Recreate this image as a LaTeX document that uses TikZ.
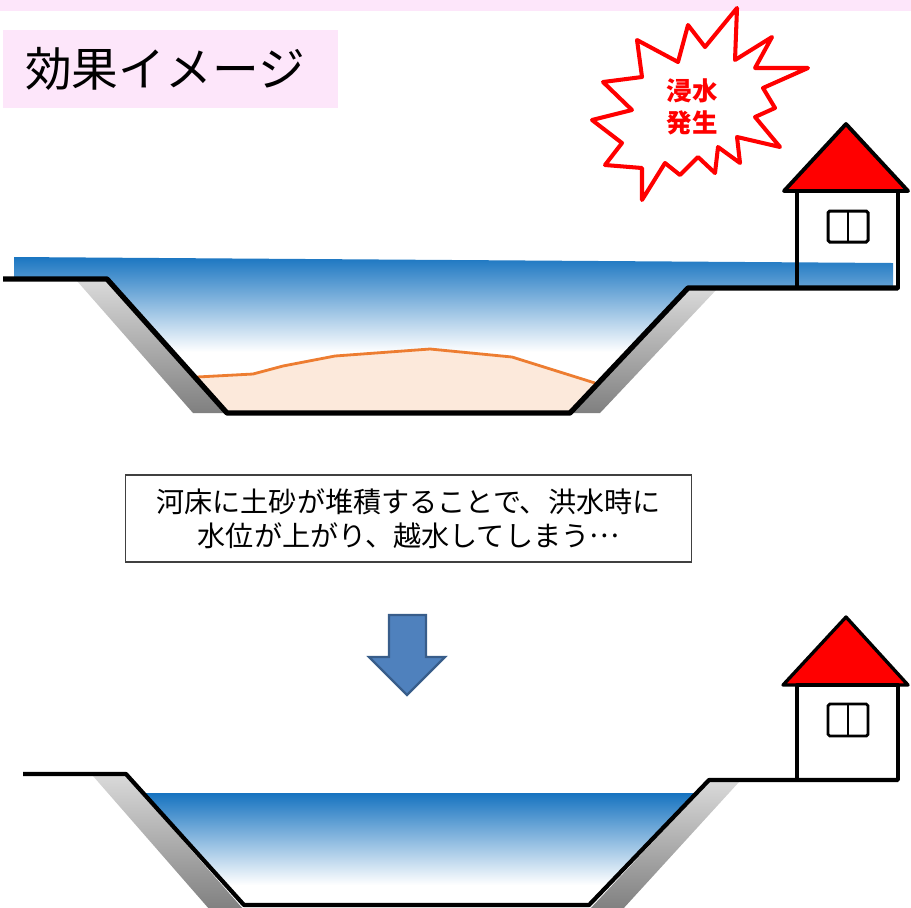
\documentclass[tikz,border=0pt]{standalone}
\usepackage{fontspec}
\setmainfont{Noto Sans CJK JP}
\definecolor{pinkband}{RGB}{253,230,250}
\definecolor{waterblue}{RGB}{22,115,192}
\definecolor{sandfill}{RGB}{252,233,219}
\definecolor{sandline}{RGB}{237,125,49}
\definecolor{arrowfill}{RGB}{79,129,189}
\definecolor{arrowline}{RGB}{56,93,138}
\begin{document}
\begin{tikzpicture}[x=0.02cm, y=-0.02cm,
    bank/.style={line width=3pt, line join=round},
    house/.style={line width=2.2pt, line join=round},
    shadow/.style={top color=black!15, bottom color=black!50},
    water/.style={top color=waterblue, bottom color=white}]
  \useasboundingbox (0,0) rectangle (911,907);

  % header
  \fill[pinkband] (0,0) rectangle (911,11);
  \fill[pinkband] (3,30) rectangle (338,108);
  \node[font=\fontsize{26.6}{30}\selectfont] (title) at (165,69) {効果イメージ};

  % flooding burst
  \draw[red, line width=2.3pt, line join=round, fill=white]
    (737,8) -- (735,60) -- (772,37) -- (755,68) -- (808,68) -- (763,88)
    -- (775,108) -- (755,117) -- (780,147) -- (737,137) -- (740,163)
    -- (718,147) -- (715,173) -- (698,157) -- (680,175) -- (665,163)
    -- (642,200) -- (642,168) -- (605,165) -- (622,143) -- (592,120)
    -- (632,110) -- (603,82) -- (642,77) -- (637,40) -- (678,62)
    -- (688,25) -- (705,47) -- cycle;
  \node[red, font=\fontsize{14.5}{18}\selectfont\bfseries, align=center] (burst) at (692,107) {浸水\\発生};

  % upper river: water over the banks
  \begin{scope}
    \clip (14,257) -- (893,263) -- (893,288) -- (688,288) -- (570,413)
      -- (227,413) -- (107,280) -- (14,280) -- cycle;
    \shade[water] (0,255) rectangle (911,352);
  \end{scope}
  \fill[sandfill] (195,377) -- (253,374) -- (283,366) -- (335,356) -- (430,349)
    -- (512,357) -- (597,383) -- (570,413) -- (227,413) -- cycle;
  \draw[sandline, line width=1.6pt] (197,377) -- (253,374) -- (283,366)
    -- (335,356) -- (430,349) -- (512,357) -- (595,383);
  \shade[shadow] (77,281) -- (107,281) -- (227,413) -- (193,413) -- cycle;
  \shade[shadow] (688,289) -- (717,289) -- (600,413) -- (570,413) -- cycle;
  \draw[bank] (3,279) -- (107,279) -- (227,413) -- (570,413) -- (688,288) -- (898,288);

  % upper house
  \draw[house, fill=red] (846,124) -- (784,191) -- (908,191) -- cycle;
  \draw[house] (797,191) rectangle (898,288);
  \draw[line width=1.7pt, rounded corners=1pt] (828,211) rectangle (868,242);
  \draw[line width=1.2pt] (848,211) -- (848,242);

  % caption
  \node[draw=black!75, line width=0.6pt, minimum width=11.34cm, minimum height=1.74cm,
    align=center, font=\fontsize{16}{19.3}\selectfont] (note) at (408.5,518.5)
    {河床に土砂が堆積することで、洪水時に\\水位が上がり、越水してしまう\raisebox{0.3em}{…}};

  % down arrow
  \draw[fill=arrowfill, draw=arrowline, line width=1.3pt, line join=miter]
    (389,615) -- (426,615) -- (426,657) -- (445,657) -- (407,695)
    -- (369,657) -- (389,657) -- cycle;

  % lower river after dredging
  \begin{scope}
    \clip (144,793) -- (696,793) -- (589,905) -- (244,905) -- cycle;
    \shade[water] (0,793) rectangle (911,885);
  \end{scope}
  \shade[shadow] (93,776) -- (126,776) -- (244,910) -- (210,910) -- cycle;
  \shade[shadow] (709,782) -- (739,782) -- (622,910) -- (589,910) -- cycle;
  \draw[line width=2.4pt, line join=round]
    (23,774) -- (126,774) -- (244,905) -- (589,905) -- (709,780) -- (898,780);

  % lower house
  \draw[line width=1.9pt, line join=round, fill=red] (846,617) -- (783,685) -- (908,685) -- cycle;
  \draw[line width=1.9pt, line join=round] (797,685) rectangle (898,780);
  \draw[line width=1.6pt, rounded corners=1pt] (828,704) rectangle (868,736);
  \draw[line width=1.1pt] (848,704) -- (848,736);
\end{tikzpicture}
\end{document}
